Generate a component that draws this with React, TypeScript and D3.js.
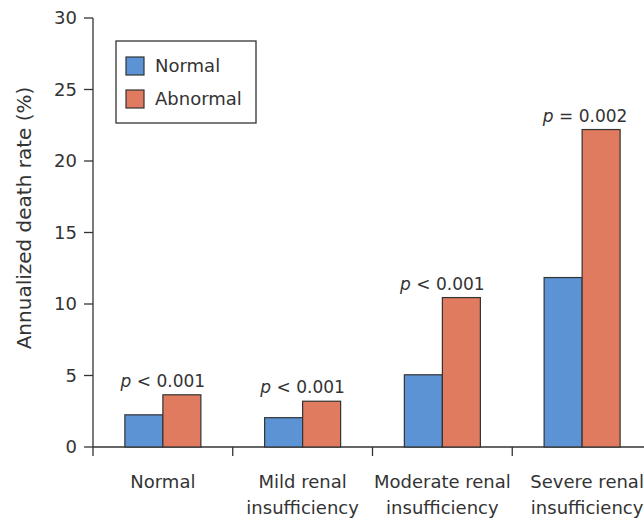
import React from 'react';
import * as d3 from 'd3';

const categories = [
  ['Normal'],
  ['Mild renal', 'insufficiency'],
  ['Moderate renal', 'insufficiency'],
  ['Severe renal', 'insufficiency'],
];
const series = ['Normal', 'Abnormal'];
const normalRates = [2.25, 2.05, 5.05, 11.85];
const abnormalRates = [3.65, 3.2, 10.45, 22.2];
const pLabels = [
  ['<', '0.001'],
  ['<', '0.001'],
  ['<', '0.001'],
  ['=', '0.002'],
];
const yTicks = [0, 5, 10, 15, 20, 25, 30];

const colors = ['#5b93d4', '#e07b5f'];
const font = 'DejaVu Sans, sans-serif';

export default function App() {
  const width = 644, height = 521;
  const x0 = 93, x1 = 652;
  const y = d3.scaleLinear().domain([0, 30]).range([447, 18]);
  const x = d3.scaleBand<number>().domain(d3.range(categories.length)).range([x0, x1]);
  const inner = d3.scaleBand<number>().domain([0, 1]).range([0, 76]);
  const values = [normalRates, abnormalRates];

  return (
    <svg width={width} height={height} style={{ position: 'absolute', left: 0, top: 0 }} fontFamily={font}>
      <rect width={width} height={height} fill="#fff" />
      {/* y axis */}
      <line x1={x0} x2={x0} y1={y(30)} y2={456} stroke="#333" strokeWidth={1.3} />
      {yTicks.map(t => (
        <g key={t}>
          <line x1={x0 - 9} x2={x0} y1={y(t)} y2={y(t)} stroke="#333" strokeWidth={1.3} />
          <text x={x0 - 16} y={y(t)} dy="0.36em" textAnchor="end" fontSize={18} fill="#333">{t}</text>
        </g>
      ))}
      <text transform={`translate(31,218) rotate(-90)`} textAnchor="middle" fontSize={20} fill="#333">
        Annualized death rate (%)
      </text>
      {/* x axis */}
      <line x1={x0} x2={x1} y1={y(0)} y2={y(0)} stroke="#333" strokeWidth={1.3} />
      {categories.map((_, i) => (
        <line key={i} x1={x(i)! + x.bandwidth()} x2={x(i)! + x.bandwidth()} y1={y(0)} y2={456} stroke="#333" strokeWidth={1.3} />
      ))}
      {categories.map((lines, i) => (
        <text key={i} x={x(i)! + x.bandwidth() / 2 + (i === 3 ? 5 : 0)} y={488} textAnchor="middle" fontSize={18} fill="#333">
          {lines.map((l, j) => (
            <tspan key={j} x={x(i)! + x.bandwidth() / 2 + (i === 3 ? 5 : 0)} dy={j === 0 ? 0 : 26}>{l}</tspan>
          ))}
        </text>
      ))}
      {/* bars */}
      {categories.map((_, i) => {
        const gx = x(i)! + x.bandwidth() / 2 - 38;
        const top = Math.min(y(normalRates[i]), y(abnormalRates[i]));
        return (
          <g key={i}>
            {values.map((vals, s) => (
              <rect key={s} x={gx + inner(s)!} y={y(vals[i])} width={inner.bandwidth()} height={y(0) - y(vals[i])}
                fill={colors[s]} stroke="#333" strokeWidth={1.2} />
            ))}
            <text x={gx + 38 + (i === 3 ? 3 : 0)} y={top - 8} textAnchor="middle" fontSize={17} fill="#333">
              <tspan fontStyle="italic">p</tspan> {pLabels[i][0]} {pLabels[i][1]}
            </text>
          </g>
        );
      })}
      {/* legend */}
      <rect x={116} y={41} width={140} height={82} fill="#fff" stroke="#333" strokeWidth={1.3} />
      {series.map((s, i) => (
        <g key={s}>
          <rect x={126} y={57 + i * 33} width={18} height={18} fill={colors[i]} stroke="#333" strokeWidth={1.2} />
          <text x={155} y={66 + i * 33} dy="0.36em" fontSize={18} fill="#333">{s}</text>
        </g>
      ))}
    </svg>
  );
}
